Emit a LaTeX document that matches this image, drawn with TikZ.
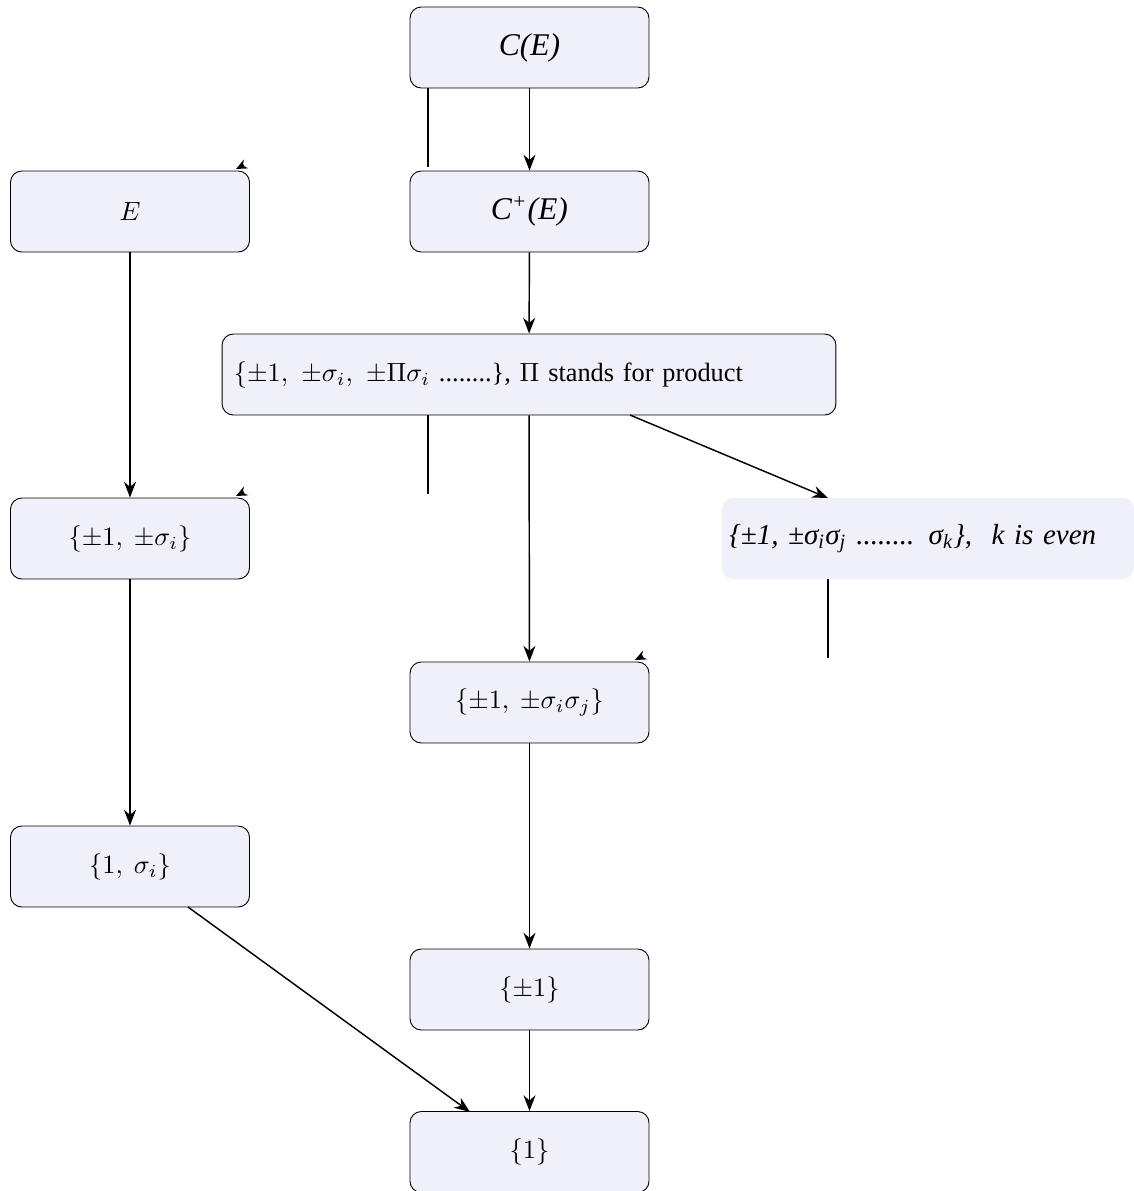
\documentclass[tikz,border=0pt]{standalone}
\usepackage{amsmath,amssymb}
\usepackage{fontspec}
\setmainfont{Liberation Serif}[
    UprightFont={Liberation Serif},
    ItalicFont={Liberation Serif Italic},
    BoldFont={Liberation Serif Bold},
    BoldItalicFont={Liberation Serif Bold Italic}]
\usepackage{xcolor}
\usepackage{tikz}
\usetikzlibrary{arrows.meta,positioning,shapes}

\definecolor{boxfill}{HTML}{F0F0FA}

\tikzset{
    grp/.style={rectangle, rounded corners=0.15cm, draw=black, line width=0.35pt,
        fill=boxfill, minimum width=3.187cm, minimum height=1.08cm, inner sep=0pt,
        font=\normalsize},
    widegrp/.style={grp, minimum width=8.187cm, text width=7.87cm, align=left},
    evengrp/.style={grp, draw=none, minimum width=5.493cm, text width=5.3cm, align=left,
        font=\fontsize{11}{13}\selectfont},
    link/.style={-{Stealth[length=2.1mm,width=1.6mm]}, line width=0.55pt},
    stub/.style={line width=0.55pt},
    tip/.style={-{Stealth[length=1.5mm,width=1.3mm]}, line width=0.55pt}
}

\begin{document}
\begin{tikzpicture}[x=0.013333cm, y=-0.013333cm]
    \useasboundingbox (0,0) rectangle (1134,1191);

    % group nodes (coordinates in pixels of the original)
    \node[grp, font=\large] (ce) at (529.5,47.5) {\textit{C(E)}};
    \node[grp, font=\large] (cpe) at (529.5,211.5) {\textit{C\textsuperscript{+}(E)}};
    \node[grp] (e) at (130,211.5) {$E$};
    \node[widegrp] (all) at (529,374.5)
        {$\{\pm1,\ \pm\sigma_i,\ \pm\Pi\sigma_i$ ........\}, $\Pi$ stands for product};
    \node[evengrp] (even) at (928,538.5)
        {\textit{\{±1,\ ±σ\textsubscript{i}σ\textsubscript{j} ........ σ\textsubscript{k}\},\ \ k is even}};
    \node[grp] (pmsi) at (130,538.5) {$\{\pm1,\ \pm\sigma_i\}$};
    \node[grp] (pmsij) at (529.5,702.5) {$\{\pm1,\ \pm\sigma_i\sigma_j\}$};
    \node[grp] (onesi) at (130,866.5) {$\{1,\ \sigma_i\}$};
    \node[grp] (pmone) at (529.5,989.5) {$\{\pm1\}$};
    \node[grp] (one) at (529.5,1152) {$\{1\}$};

    % ends of the slanted arrows and free ends of the stubs
    \coordinate (a1) at (630,415);  \coordinate (a2) at (828,498);
    \coordinate (b1) at (188,907);  \coordinate (b2) at (470,1112);
    \coordinate (s1) at (428,167);
    \coordinate (s2) at (428,494);
    \coordinate (s3) at (828,658);
    \coordinate (t1a) at (244,165); \coordinate (t1b) at (236,169);
    \coordinate (t2a) at (244,492); \coordinate (t2b) at (236,496);
    \coordinate (t3a) at (643,656); \coordinate (t3b) at (635,660);

    % arrows
    \draw[link] (ce) -- (cpe);
    \draw[link] (cpe) -- (all);
    \draw[link] (e) -- (pmsi);
    \draw[link] (pmsi) -- (onesi);
    \draw[link] (all) -- (pmsij);
    \draw[link] (a1) -- (a2);
    \draw[link] (pmsij) -- (pmone);
    \draw[link] (pmone) -- (one);
    \draw[link] (b1) -- (b2);

    % stubs
    \draw[stub] (ce.south -| s1) -- (s1);
    \draw[stub] (all.south -| s2) -- (s2);
    \draw[stub] (even.south -| s3) -- (s3);
    \draw[tip] (t1a) -- (t1b);
    \draw[tip] (t2a) -- (t2b);
    \draw[tip] (t3a) -- (t3b);
\end{tikzpicture}
\end{document}
